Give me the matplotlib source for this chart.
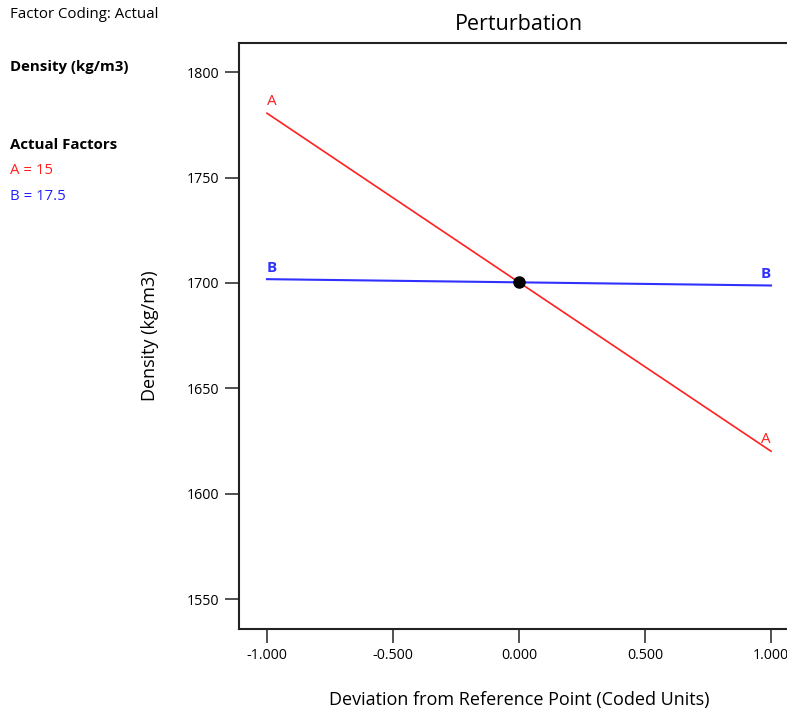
import matplotlib
matplotlib.use("Agg")
import matplotlib.pyplot as plt

plt.rcParams['font.family'] = ['Open Sans', 'DejaVu Sans']

x_coded = [-1.0, 0.0, 1.0]
density_A = [1780.5, 1700.3, 1620.2]
density_B = [1701.8, 1700.3, 1698.8]
x_ticks = [-1.0, -0.5, 0.0, 0.5, 1.0]
x_tick_labels = ["-1.000", "-0.500", "0.000", "0.500", "1.000"]
y_ticks = [1550, 1600, 1650, 1700, 1750, 1800]
ref_point = (0.0, 1700.3)

W, H = 787, 713
fig = plt.figure(figsize=(W / 100, H / 100), dpi=100)
left, right, top, bottom = 239, 799, 43, 629
ax = fig.add_axes([left / W, 1 - bottom / H, (right - left) / W, (bottom - top) / H])

ax.plot(x_coded, density_A, color='#ff2020', lw=1.2)
ax.plot(x_coded, density_B, color='#3030ff', lw=1.5)
ax.plot([ref_point[0]], [ref_point[1]], 'o', color='black', ms=8, zorder=5)

ax.text(x_coded[0], density_A[0] + 2, "A", color='#ff2020', fontsize=11, ha='left', va='bottom')
ax.text(x_coded[-1], density_A[-1] + 2, "A", color='#ff2020', fontsize=11, ha='right', va='bottom')
ax.text(x_coded[0], density_B[0] + 2, "B", color='#3030ff', fontsize=11, ha='left', va='bottom', fontweight='bold')
ax.text(x_coded[-1], density_B[-1] + 2, "B", color='#3030ff', fontsize=11, ha='right', va='bottom', fontweight='bold')

ax.set_xlim(-1.111, 1.111)
ax.set_ylim(1535.9, 1813.8)
ax.set_xticks(x_ticks)
ax.set_xticklabels(x_tick_labels)
ax.set_yticks(y_ticks)
ax.tick_params(direction='out', length=10, width=1.2, color='#333333', labelsize=10.3, pad=4)
for s in ax.spines.values():
    s.set_linewidth(1.5)
    s.set_color('#222222')

ax.set_title("Perturbation", fontsize=15.5, pad=9)
ax.set_xlabel("Deviation from Reference Point (Coded Units)", fontsize=13, labelpad=20)
ax.set_ylabel("Density (kg/m3)", fontsize=13, labelpad=20)

fig.text(10 / W, 1 - 14 / H, "Factor Coding: Actual", fontsize=10.8, va='center', ha='left')
fig.text(10 / W, 1 - 67 / H, "Density (kg/m3)", fontsize=10.8, va='center', ha='left', fontweight='bold')
fig.text(10 / W, 1 - 145 / H, "Actual Factors", fontsize=10.8, va='center', ha='left', fontweight='bold')
fig.text(10 / W, 1 - 170 / H, "A = 15", fontsize=10.8, va='center', ha='left', color='#ff2020')
fig.text(10 / W, 1 - 196 / H, "B = 17.5", fontsize=10.8, va='center', ha='left', color='#2020ff')

fig.savefig("out.png", dpi=100)
